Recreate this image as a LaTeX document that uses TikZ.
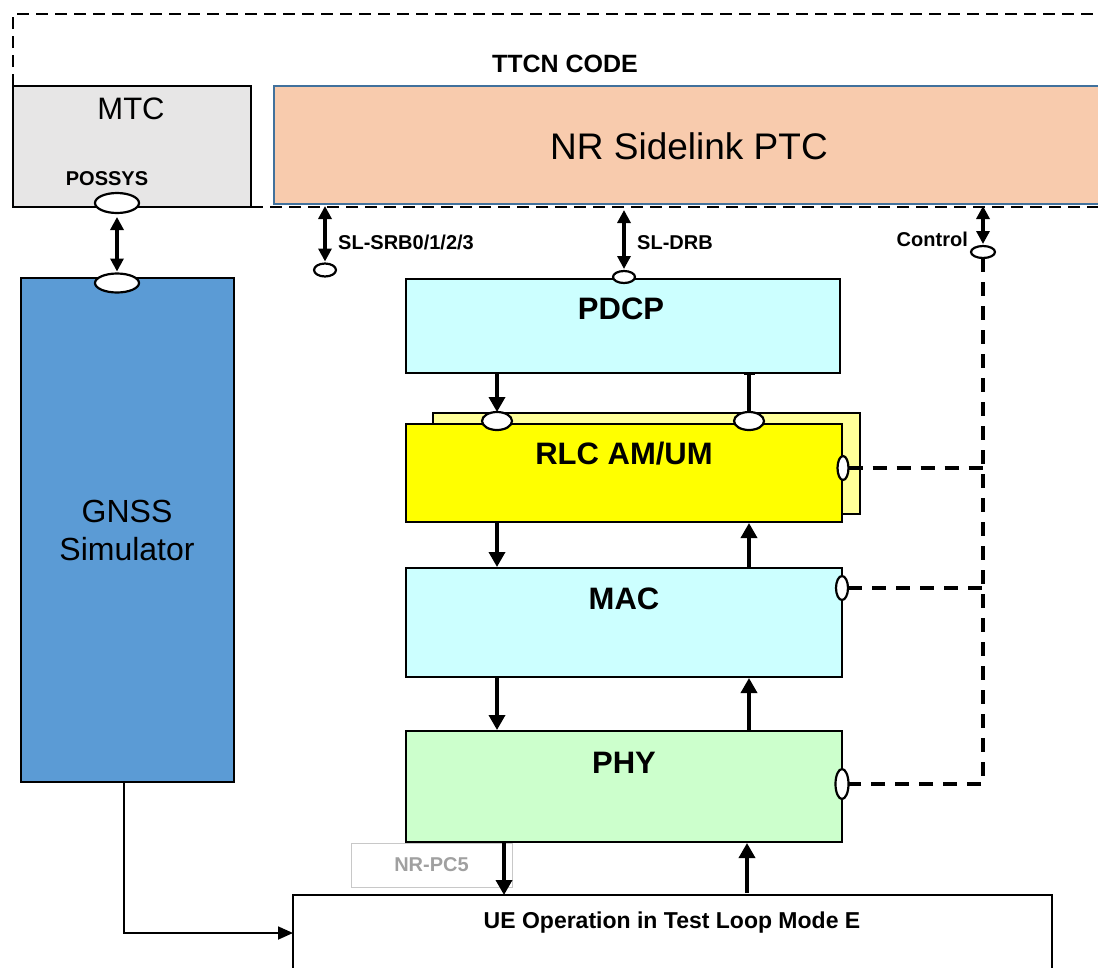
\documentclass[tikz,border=0pt]{standalone}
\usepackage{fontspec}
\setmainfont{Liberation Sans}
\usetikzlibrary{arrows.meta,shapes.geometric,calc}
\definecolor{mtcgray}{HTML}{E7E6E6}
\definecolor{ptcfill}{HTML}{F8CBAD}
\definecolor{ptcborder}{HTML}{41719C}
\definecolor{gnssblue}{HTML}{5B9BD5}
\definecolor{cyanbox}{HTML}{CCFFFF}
\definecolor{rlcyellow}{HTML}{FFFF00}
\definecolor{rlcback}{HTML}{FFFF99}
\definecolor{phygreen}{HTML}{CCFFCC}
\definecolor{pcborder}{HTML}{C8C8C8}
\definecolor{pctext}{HTML}{A0A0A0}
\begin{document}
\begin{tikzpicture}[x=1pt,y=-1pt,
  box/.style={draw=black,line width=2.5pt,inner sep=0pt,outer sep=0pt,anchor=north west},
  port/.style={ellipse,draw=black,fill=white,line width=2.2pt,inner sep=0pt,outer sep=0pt},
  lbl/.style={font=\fontsize{20}{20}\selectfont\bfseries,inner sep=0pt},
  big/.style={font=\fontsize{31}{31}\selectfont\bfseries,inner sep=0pt,anchor=base},
  reg/.style={font=\fontsize{31}{31}\selectfont,inner sep=0pt,anchor=base},
  flow/.style={line width=3.5pt,-{Triangle[length=15pt,width=16pt]}},
  dbl/.style={line width=3.2pt,{Triangle[length=13pt,width=13pt]}-{Triangle[length=13pt,width=13pt]}},
  ctl/.style={line width=3.5pt,dash pattern=on 14pt off 10pt},
  frame/.style={line width=2.5pt,dash pattern=on 12pt off 7pt},
]
\useasboundingbox (0,0) rectangle (1098,967);
\clip (0,0) rectangle (1098,967);

% TTCN frame
\node[box,fill=mtcgray,minimum width=238pt,minimum height=121pt] (mtc) at (13,86) {};
\node[box,draw=ptcborder,line width=1.5pt,fill=ptcfill,minimum width=840pt,minimum height=118pt] (ptc) at (274,86) {};
\coordinate (fr) at (1110,14);
\draw[frame] (mtc.north west) -- (mtc.north west |- fr) -- (fr);
\draw[frame] (mtc.south east) -- (mtc.south east -| fr);
\node[lbl,font=\fontsize{25}{25}\selectfont\bfseries,anchor=base] (ttcn) at (565,72) {TTCN CODE};
\node[reg] (mtct) at (131,119) {MTC};
\node[lbl,anchor=base] (possys) at (107,185) {POSSYS};
\node[reg,font=\fontsize{37}{37}\selectfont] (ptct) at (689,159) {NR Sidelink PTC};
\node[port,minimum width=44pt,minimum height=20pt] (mtcport) at (117,203) {};

% GNSS
\node[box,fill=gnssblue,minimum width=213pt,minimum height=504pt] (gnss) at (21,278) {};
\node[port,minimum width=44pt,minimum height=19pt] (gnssport) at (117,283) {};
\node[reg,font=\fontsize{32}{32}\selectfont] (gnsst1) at (127,522) {GNSS};
\node[reg,font=\fontsize{32}{32}\selectfont] (gnsst2) at (127,560) {Simulator};
\draw[dbl,shorten <=4pt,shorten >=2pt] (mtcport.south) -- (gnssport.north);

% Protocol boxes
\node[box,fill=cyanbox,minimum width=434pt,minimum height=94pt] (pdcp) at (406,279) {};
\node[big] (pdcpt) at ($(pdcp.north)+(-2,40)$) {PDCP};
\node[box,fill=rlcback,minimum width=427pt,minimum height=101pt] (rlcb) at (433,413) {};
\node[box,fill=rlcyellow,minimum width=436pt,minimum height=98pt] (rlc) at (406,424) {};
\node[big] (rlct) at (624,464) {RLC AM/UM};
\node[box,fill=cyanbox,minimum width=436pt,minimum height=109pt] (mac) at (406,568) {};
\node[big] (mact) at (624,609) {MAC};
\node[box,fill=phygreen,minimum width=436pt,minimum height=111pt] (phy) at (406,731) {};
\node[big] (phyt) at (624,773) {PHY};

% ports on RLC
\node[port,minimum width=30pt,minimum height=18pt] (rlcin) at (497,421) {};
\node[port,minimum width=30pt,minimum height=18pt] (rlcout) at (749,421) {};
\node[port,minimum width=11pt,minimum height=24pt] (rlcctl) at (843,468) {};
\node[port,minimum width=12pt,minimum height=24pt] (macctl) at (842,588) {};
\node[port,minimum width=13pt,minimum height=30pt] (phyctl) at (842,784) {};

% SAPs to PTC
\node[port,minimum width=22pt,minimum height=13pt] (srb) at (325,270) {};
\node[port,minimum width=22pt,minimum height=12pt] (drb) at (624,277) {};
\node[port,minimum width=24pt,minimum height=12pt] (ctl) at (983,252) {};
\draw[dbl,shorten <=2pt,shorten >=2pt] (srb.north |- ptc.south) -- (srb.north);
\draw[dbl,shorten <=6pt,shorten >=2pt] (drb.north |- ptc.south) -- (drb.north);
\draw[dbl,shorten <=2pt,shorten >=2pt] (ctl.north |- ptc.south) -- (ctl.north);
\node[lbl,anchor=base west] (srbt) at (338,249) {SL-SRB0/1/2/3};
\node[lbl,anchor=base west] (drbt) at (637,249) {SL-DRB};
\node[lbl,anchor=base east] (ctlt) at (968,246) {Control};

% control dashed lines
\draw[ctl] (ctl.south) -- (ctl.south |- phyctl) -- (phyctl.east);
\draw[ctl] (rlcctl.east) -- (rlcctl -| ctl);
\draw[ctl] (macctl.east) -- (macctl -| ctl);

% data flow arrows
\draw[flow] (pdcp.south -| rlcin) -- (rlcin.north);
\draw[line width=3.5pt,-{Bar[width=11pt,line width=1.5pt]}] (rlcout.north) -- (rlcout.north |- pdcp.south);
\draw[flow,shorten >=1pt] (rlc.south -| rlcin) -- (mac.north -| rlcin);
\draw[flow,shorten >=1pt] (mac.north -| rlcout) -- (rlc.south -| rlcout);
\draw[flow,shorten >=1pt] (mac.south -| rlcin) -- (phy.north -| rlcin);
\draw[flow,shorten >=1pt] (phy.north -| rlcout) -- (mac.south -| rlcout);

% UE and NR-PC5
\node[box,line width=2.2pt,fill=white,minimum width=759pt,minimum height=76pt] (ue) at (293,895) {};
\node[lbl,font=\fontsize{23}{23}\selectfont\bfseries,anchor=base] (uet) at (672,928) {UE Operation in Test Loop Mode E};
\node[draw=pcborder,line width=1pt,inner sep=0pt,outer sep=0pt,minimum width=161pt,minimum height=44pt,anchor=north west,font=\fontsize{20}{20}\selectfont\bfseries,text=pctext] (pc5) at (351,843) {NR-PC5};
\coordinate (dn) at (504,0);
\coordinate (up) at (747,0);
\draw[flow,shorten <=1pt] (phy.south -| dn) -- (ue.north -| dn);
\draw[flow,shorten <=2pt,shorten >=1pt] (ue.north -| up) -- (phy.south -| up);

% GNSS to UE
\draw[line width=1.8pt,-{Triangle[length=15pt,width=13pt]}] ([xshift=-3.5pt]gnss.south) |- (ue.west);
\end{tikzpicture}
\end{document}
